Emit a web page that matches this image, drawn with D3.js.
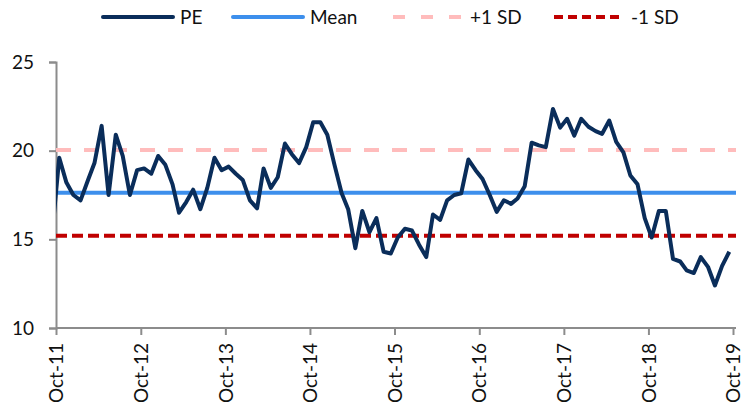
<!DOCTYPE html>
<html>
<head>
<meta charset="utf-8">
<script src="https://cdn.jsdelivr.net/npm/d3@7/dist/d3.min.js"></script>
<style>
  html, body { margin: 0; padding: 0; background: #fff; }
  svg text { font-family: Lato, "Open Sans", sans-serif; fill: #111; }
</style>
</head>
<body>
<svg id="chart" width="746" height="413"></svg>
<script>
// Monthly PE readings (mid-month), Sep-2011 through Sep-2019
const startMonth = "2011-09-15";
const peValues = [
  15.4,
  19.6, 18.2, 17.5, 17.2, 18.3, 19.3, 21.4, 17.5, 20.9, 19.7, 17.5, 18.9,
  19.0, 18.7, 19.7, 19.2, 18.1, 16.5, 17.1, 17.8, 16.7, 17.9, 19.6, 18.9,
  19.1, 18.7, 18.35, 17.2, 16.75, 19.0, 17.9, 18.5, 20.4, 19.8, 19.3, 20.2,
  21.6, 21.6, 20.9, 19.2, 17.6, 16.7, 14.5, 16.6, 15.4, 16.2, 14.3, 14.2,
  15.1, 15.6, 15.5, 14.7, 14.0, 16.4, 16.1, 17.2, 17.5, 17.6, 19.5, 18.9,
  18.4, 17.5, 16.55, 17.2, 17.0, 17.3, 18.0, 20.45, 20.3, 20.2, 22.35, 21.3,
  21.8, 20.85, 21.8, 21.35, 21.1, 20.95, 21.7, 20.5, 19.9, 18.6, 18.1, 16.2,
  15.1, 16.6, 16.6, 13.9, 13.75, 13.25, 13.1, 14.0, 13.45, 12.4, 13.5, 14.3
];
// Reference levels
const meanValue = 17.62;
const plusSD = 20.04;
const minusSD = 15.2;

const yTicks = [10, 15, 20, 25];
const xTickLabels = ["Oct-11", "Oct-12", "Oct-13", "Oct-14", "Oct-15", "Oct-16", "Oct-17", "Oct-18", "Oct-19"];
const legendNames = ["PE", "Mean", "+1 SD", "-1 SD"];

const parse = d3.timeParse("%Y-%m-%d");
const tickParse = d3.timeParse("%b-%y");
const first = parse(startMonth);
const series = peValues.map((v, i) => ({ date: d3.timeMonth.offset(first, i), value: v }));

const svg = d3.select("#chart");
const plotLeft = 56, plotRight = 733, plotTop = 62, plotBottom = 328;

const x = d3.scaleTime()
  .domain([tickParse("Oct-11"), tickParse("Oct-19")])
  .range([plotLeft, plotRight]);
const y = d3.scaleLinear().domain([10, 25]).range([plotBottom, plotTop]);

const axisColor = "#8c8c8c";
const fontStack = "Lato, 'Open Sans', sans-serif";

// Clip so the line starts at the value axis
svg.append("clipPath").attr("id", "plotClip")
  .append("rect").attr("x", plotLeft).attr("y", 0)
  .attr("width", plotRight - plotLeft + 6).attr("height", 413);

// Y axis
const yAxis = svg.append("g")
  .attr("transform", `translate(${plotLeft},0)`)
  .call(d3.axisLeft(y).tickValues(yTicks).tickSize(7).tickPadding(15));
yAxis.select(".domain").attr("stroke", axisColor).attr("stroke-width", 2);
yAxis.selectAll(".tick line").attr("stroke", axisColor).attr("stroke-width", 2);
yAxis.selectAll(".tick text").attr("font-size", 19).attr("fill", "#111")
  .style("font-family", fontStack);

// X axis
const xAxis = svg.append("g")
  .attr("transform", `translate(0,${plotBottom})`)
  .call(d3.axisBottom(x)
    .tickValues(xTickLabels.map(tickParse))
    .tickFormat(d3.timeFormat("%b-%y"))
    .tickSize(7).tickSizeOuter(0));
xAxis.select(".domain").attr("stroke", axisColor).attr("stroke-width", 2)
  .attr("d", `M${plotLeft},0H${plotRight + 3}`);
xAxis.selectAll(".tick line").attr("stroke", axisColor).attr("stroke-width", 2);
xAxis.selectAll(".tick text")
  .attr("font-size", 19).attr("fill", "#111")
  .style("font-family", fontStack)
  .attr("transform", "rotate(-90)")
  .attr("text-anchor", "end")
  .attr("x", -15).attr("y", 0).attr("dy", "0.35em");

// Reference lines
const refLines = [
  { v: plusSD, color: "#ffbcbc", dash: "15,13", width: 4 },
  { v: minusSD, color: "#c00000", dash: "11,5", width: 4 },
  { v: meanValue, color: "#3d8fec", dash: null, width: 4 }
];
refLines.forEach(r => {
  svg.append("line")
    .attr("x1", plotLeft).attr("x2", plotRight + 3)
    .attr("y1", y(r.v)).attr("y2", y(r.v))
    .attr("stroke", r.color).attr("stroke-width", r.width)
    .attr("stroke-dasharray", r.dash);
});

// PE line
svg.append("path")
  .datum(series)
  .attr("clip-path", "url(#plotClip)")
  .attr("fill", "none")
  .attr("stroke", "#0a2d5a")
  .attr("stroke-width", 4)
  .attr("stroke-linejoin", "round")
  .attr("d", d3.line().x(d => x(d.date)).y(d => y(d.value)));

// Legend
const legendStyles = [
  { color: "#0a2d5a", dash: null, cap: "round" },
  { color: "#3d8fec", dash: null, cap: "round" },
  { color: "#ffbcbc", dash: "12,16", cap: "butt" },
  { color: "#c00000", dash: "9,5", cap: "butt" }
];
const legendX = [103, 233, 393, 554];
const legendY = 17;
legendNames.forEach((name, i) => {
  const g = svg.append("g").attr("transform", `translate(${legendX[i]},${legendY})`);
  g.append("line").attr("x1", 0).attr("x2", 70).attr("y1", 0).attr("y2", 0)
    .attr("stroke", legendStyles[i].color).attr("stroke-width", 4)
    .attr("stroke-linecap", legendStyles[i].cap)
    .attr("stroke-dasharray", legendStyles[i].dash);
  g.append("text").attr("x", 77).attr("y", 0).attr("dy", "0.35em")
    .attr("font-size", 19).text(name);
});
</script>
</body>
</html>
